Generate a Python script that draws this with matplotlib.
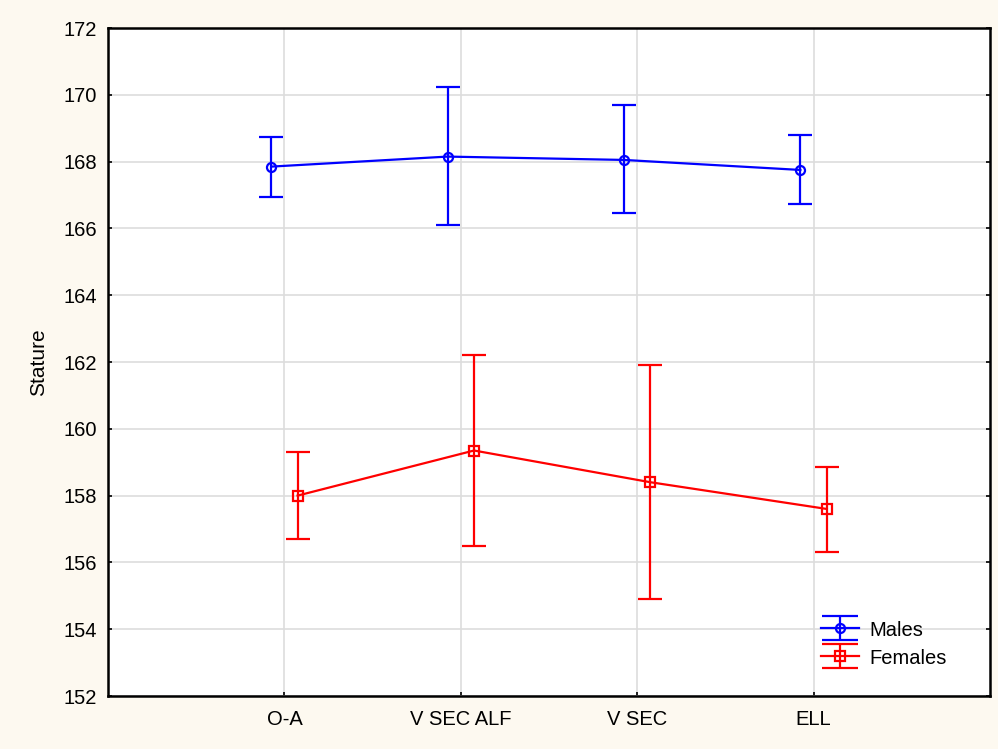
import matplotlib
matplotlib.use("Agg")
import matplotlib.pyplot as plt
import numpy as np
from matplotlib.container import ErrorbarContainer
from matplotlib.legend_handler import HandlerErrorbar

plt.rcParams['font.family'] = ['Liberation Sans', 'DejaVu Sans']

categories = ["O-A", "V SEC ALF", "V SEC", "ELL"]
males_mean = [167.85, 168.15, 168.05, 167.75]
males_upper = [168.75, 170.22, 169.7, 168.8]
males_lower = [166.95, 166.1, 166.45, 166.72]
females_mean = [158.0, 159.35, 158.4, 157.6]
females_upper = [159.3, 162.2, 161.9, 158.85]
females_lower = [156.7, 156.5, 154.9, 156.3]
yticks = [152, 154, 156, 158, 160, 162, 164, 166, 168, 170, 172]

fig = plt.figure(figsize=(9.98, 7.49), dpi=100)
fig.patch.set_facecolor('#FDF9F0')
ax = fig.add_axes([108/998, 1-696/749, (990-108)/998, (696-28)/749])
ax.set_facecolor('white')

x = np.arange(1, len(categories)+1)
off = 0.075

def draw(xs, mean, lo, hi, color, marker, label):
    mean = np.array(mean); lo = np.array(lo); hi = np.array(hi)
    style = dict(color=color, marker=marker, markersize=6.5, markerfacecolor='none',
                 markeredgewidth=1.6, linewidth=1.6, capthick=1.6, elinewidth=1.6, zorder=3)
    ax.errorbar(xs, mean, yerr=[mean-lo, hi-mean], capsize=8.5, label='_nolegend_', **style)
    # legend proxy with wider caps
    return ax.errorbar([np.nan], [np.nan], yerr=[[1], [1]], capsize=13.3, label=label, **style)

draw(x-off, males_mean, males_lower, males_upper, '#0000FF', 'o', 'Males')
draw(x+off, females_mean, females_lower, females_upper, '#FF0000', 's', 'Females')

ax.set_xlim(0, 5)
ax.set_ylim(152, 172)
ax.set_xticks(x)
ax.set_xticklabels(categories)
ax.set_yticks(yticks)
ax.grid(True, color='#DDDDDD', linewidth=1.2, zorder=0)
ax.set_axisbelow(True)
ax.tick_params(direction='in', length=3, width=1.2, labelsize=14.5, top=False, right=True)
ax.tick_params(axis='x', pad=10)
ax.tick_params(axis='y', pad=8)
for s in ax.spines.values():
    s.set_linewidth(1.8)
ax.set_ylabel('Stature', fontsize=15, labelpad=11)

leg = ax.legend(loc='lower right', frameon=False, fontsize=14.5, bbox_to_anchor=(0.972, 0.015),
                handlelength=1.85, handletextpad=0.55, labelspacing=0.4, handleheight=1.0,
                handler_map={ErrorbarContainer: HandlerErrorbar(yerr_size=0.6)})

fig.savefig('out.png', dpi=100, facecolor=fig.get_facecolor())
